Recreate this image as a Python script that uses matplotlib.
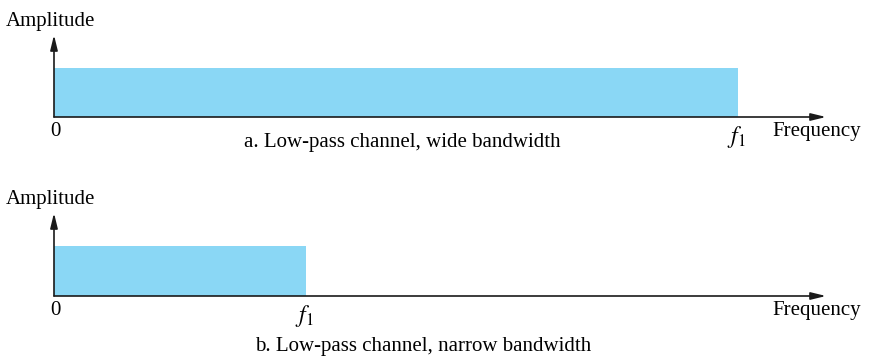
import matplotlib
matplotlib.use('Agg')
import matplotlib.pyplot as plt

plt.rcParams['font.family'] = ['Liberation Serif', 'DejaVu Serif']
plt.rcParams['mathtext.fontset'] = 'stix'

# channel data (frequency in arbitrary units, axis runs 0..freq_end)
panels = ['a', 'b']
f1_values = [8.86, 3.26]
amplitudes = [1.0, 1.0]
captions = ['a. Low-pass channel, wide bandwidth', 'b. Low-pass channel, narrow bandwidth']
freq_end = 10.0
amp_top = 1.67

bar_color = '#8AD7F5'
fs = 15

fig = plt.figure(figsize=(8.69, 3.59), dpi=100)
W, H = 869.0, 359.0

# pixel layout of each panel: (left, baseline y, top y)
layout = [(54, 117, 35), (54, 296, 213)]
cap_pos = [(402, 143), (423, 347)]

for i, p in enumerate(panels):
    x0, yb, yt = layout[i]
    ax = fig.add_axes([x0 / W, (H - yb) / H, 772 / W, (yb - yt) / H])
    ax.set_xlim(0, freq_end)
    ax.set_ylim(0, amp_top)
    ax.axis('off')
    ax.bar(0, amplitudes[i], width=f1_values[i], align='edge', color=bar_color,
           edgecolor='none', zorder=1)
    arw = dict(arrowstyle='-|>,head_length=0.9,head_width=0.22', color='#1a1a1a',
               lw=1.2, shrinkA=0, shrinkB=0)
    ax.annotate('', xy=(freq_end, 0), xytext=(0, 0), arrowprops=arw,
                annotation_clip=False, zorder=3)
    ax.annotate('', xy=(0, amp_top), xytext=(0, 0), arrowprops=arw,
                annotation_clip=False, zorder=3)
    ax.text(0.02, -0.3, '0', ha='center', va='center', fontsize=fs)
    ax.text(f1_values[i] - 0.02, -0.4, '$f_1$', ha='center', va='center', fontsize=fs + 2)
    ax.text(freq_end - 0.7, -0.3, 'Frequency', ha='left', va='center', fontsize=fs)
    ax.text(-0.63, amp_top + 0.28, 'Amplitude', ha='left', va='center', fontsize=fs)
    fig.text(cap_pos[i][0] / W, (H - cap_pos[i][1]) / H, captions[i],
             ha='center', va='center', fontsize=fs)

fig.savefig('out.png', dpi=100, facecolor='white')
